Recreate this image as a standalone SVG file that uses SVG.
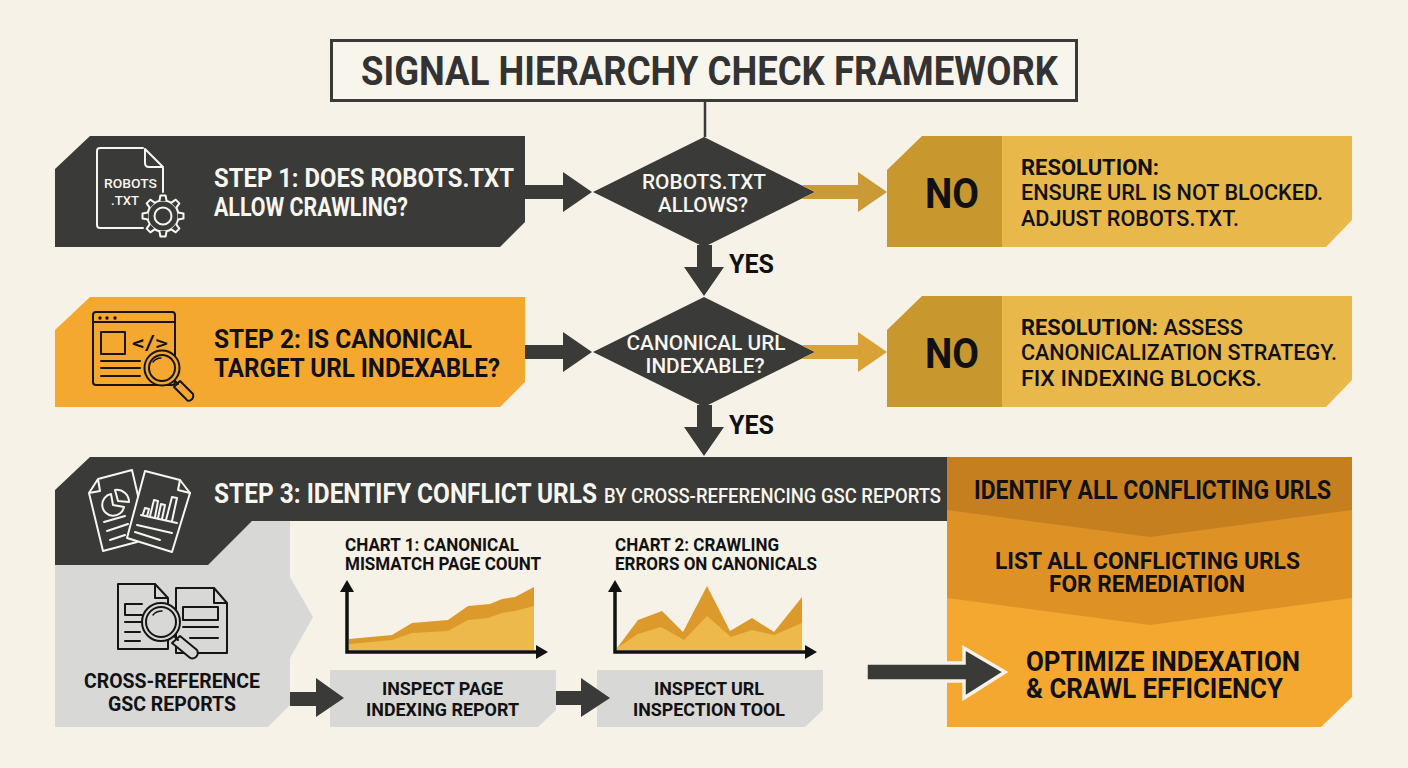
<svg xmlns="http://www.w3.org/2000/svg" xmlns:xlink="http://www.w3.org/1999/xlink" width="1408" height="768" viewBox="0 0 1408 768">
<style>
text{font-family:Roboto,"Liberation Sans",sans-serif;font-weight:700;fill:#111}
.w{fill:#f8f6f0}
.s{font-size:25px}
.d{font-size:20.500px;text-anchor:middle;font-weight:500}
.r{font-size:21.500px;font-weight:500}
.b{font-weight:700}
.g{font-size:18.500px;text-anchor:middle}
.c{font-size:17.500px}
.dk{fill:#3a3a38}
.ic{fill:none;stroke-linejoin:round;stroke-linecap:round;stroke-width:2}
.iw{stroke:#f8f6f0}
.ib{stroke:#151515}
</style>
<defs>
<path id="tooth" d="M-3.6-15-2.6-20.5H2.6L3.6-15" fill="#3a3a38" stroke="#f8f6f0" stroke-width="2" stroke-linejoin="round"/>
</defs>
<rect width="1408" height="768" fill="#f6f2e8"/>

<g id="title">
<rect x="331.500" y="40.500" width="745" height="60" fill="#f8f5ec" stroke="#3a3a38" stroke-width="3"/>
<text x="361" y="85" font-size="40" textLength="697" lengthAdjust="spacingAndGlyphs" style="fill:#333">SIGNAL HIERARCHY CHECK FRAMEWORK</text>
</g>

<g id="step1">
<polygon class="dk" points="55,169 90,136 525,136 525,222 500,247 55,247"/>
<g class="ic iw">
<path d="M143,148H100Q97,148 97,151V225Q97,228 100,228H143M163,168V192M145,149V163Q145,167 149,167H163L145,149"/>
<circle cx="163" cy="216" r="15.500" fill="#3a3a38"/>
<circle cx="163" cy="216" r="8.500"/>
</g>
<g transform="translate(163 216)">
<use xlink:href="#tooth"/><use xlink:href="#tooth" transform="rotate(45)"/><use xlink:href="#tooth" transform="rotate(90)"/><use xlink:href="#tooth" transform="rotate(135)"/><use xlink:href="#tooth" transform="rotate(180)"/><use xlink:href="#tooth" transform="rotate(225)"/><use xlink:href="#tooth" transform="rotate(270)"/><use xlink:href="#tooth" transform="rotate(315)"/>
</g>
<text class="w" x="104" y="188" font-size="13.500" textLength="53" lengthAdjust="spacingAndGlyphs" style="font-weight:500">ROBOTS</text>
<text class="w" x="111" y="205" font-size="13.500" textLength="28" lengthAdjust="spacingAndGlyphs" style="font-weight:500">.TXT</text>
<text class="s w" x="214" y="187" textLength="300" lengthAdjust="spacingAndGlyphs">STEP 1: DOES ROBOTS.TXT</text>
<text class="s w" x="214" y="216" textLength="194" lengthAdjust="spacingAndGlyphs">ALLOW CRAWLING?</text>
</g>

<g id="decision1">
<polygon class="dk" points="593,192 704,137 815,192 704,247"/>
<text class="d w" x="704" y="189" textLength="124" lengthAdjust="spacingAndGlyphs">ROBOTS.TXT</text>
<text class="d w" x="703" y="212" textLength="90" lengthAdjust="spacingAndGlyphs">ALLOWS?</text>
</g>

<g id="no1">
<polygon fill="#e9b84a" points="1000,136 1352,136 1352,220 1326,247 1000,247"/>
<polygon fill="#c8982f" points="887,170 922,136 1002,136 1002,247 887,247"/>
<text x="925" y="208" font-size="43" textLength="54" lengthAdjust="spacingAndGlyphs">NO</text>
<text class="r b" x="1021" y="175" textLength="138" lengthAdjust="spacingAndGlyphs">RESOLUTION:</text>
<text class="r" x="1021" y="200" textLength="302" lengthAdjust="spacingAndGlyphs">ENSURE URL IS NOT BLOCKED.</text>
<text class="r" x="1021" y="226" textLength="218" lengthAdjust="spacingAndGlyphs">ADJUST ROBOTS.TXT.</text>
</g>

<g id="step2">
<polygon fill="#f5a82f" points="55,330 90,297 525,297 525,382 500,407 55,407"/>
<g class="ic ib">
<rect x="93" y="312" width="82" height="73" rx="3"/>
<path d="M93,322H175M101,361H140M101,368H140M101,376H140"/>
<rect x="101" y="332" width="24" height="22"/>
</g>
<g fill="#151515"><circle cx="100" cy="318" r="1.700"/><circle cx="107" cy="318" r="1.700"/><circle cx="115" cy="318" r="1.700"/></g>
<text x="132" y="350" font-size="21" textLength="36" lengthAdjust="spacingAndGlyphs" style="font-weight:500">&lt;/&gt;</text>
<g class="ic ib">
<circle cx="162" cy="368" r="17.500" fill="#f5a82f"/>
<circle cx="162" cy="368" r="13"/>
<path d="M175,381L178,384M174,387L180,381 193,394Q194,398 191,400 188,402 186,399Z" fill="#f5a82f"/>
<path d="M153,362Q156,358 161,358" stroke-width="1.500"/>
</g>
<text class="s" x="214" y="348" textLength="258" lengthAdjust="spacingAndGlyphs">STEP 2: IS CANONICAL</text>
<text class="s" x="214" y="377" textLength="286" lengthAdjust="spacingAndGlyphs">TARGET URL INDEXABLE?</text>
</g>

<g id="decision2">
<polygon class="dk" points="593,352 704,297 815,352 704,407"/>
<text class="d w" x="706" y="350" textLength="159" lengthAdjust="spacingAndGlyphs">CANONICAL URL</text>
<text class="d w" x="705" y="373" textLength="119" lengthAdjust="spacingAndGlyphs">INDEXABLE?</text>
</g>

<g id="no2">
<polygon fill="#e9b84a" points="1000,296 1352,296 1352,380 1326,407 1000,407"/>
<polygon fill="#c8982f" points="887,330 922,296 1002,296 1002,407 887,407"/>
<text x="925" y="367.500" font-size="43" textLength="54" lengthAdjust="spacingAndGlyphs">NO</text>
<text class="r" x="1021" y="335" textLength="222" lengthAdjust="spacingAndGlyphs"><tspan class="b">RESOLUTION:</tspan> ASSESS</text>
<text class="r" x="1021" y="360" textLength="316" lengthAdjust="spacingAndGlyphs">CANONICALIZATION STRATEGY.</text>
<text class="r" x="1021" y="386" textLength="241" lengthAdjust="spacingAndGlyphs">FIX INDEXING BLOCKS.</text>
</g>

<g id="step3">
<polygon fill="#d8d8d6" points="55,560 208,560 252,521 290,521 290,577 313,617 290,658 290,705 268,727 55,727"/>
<polygon class="dk" points="55,490 90,457 950,457 950,521 252,521 208,565 55,565"/>
<g class="ic iw">
<path d="M98,479L132,470 146,530 137,542 103,551 89,493ZM89,493L100,491 98,479"/>
<path d="M145,471L180,480 190,493 172,552 127,538Z" fill="#3a3a38"/>
<path d="M180,480L178,490 190,493"/>
<path d="M111,494A11,11 0 1 0 124,507L113,505Z"/>
<path d="M115,490A12,12 0 0 1 129,502L118,501Z"/>
<path d="M104,522L125,516M107,531L128,524M110,540L125,535"/>
<path d="M143,514L145,508 149,509 147,516M150,516L154,500 158,501 155,517M158,518L161,504 165,505 162,519M166,520L172,497 177,498 172,521"/>
<path d="M141,515L177,523M137,525L172,533M135,532L160,540"/>
</g>
<text class="w" x="214" y="503" font-size="27" textLength="383" lengthAdjust="spacingAndGlyphs">STEP 3: IDENTIFY CONFLICT URLS</text>
<text class="w" x="604" y="502.500" font-size="21" textLength="337" lengthAdjust="spacingAndGlyphs" style="font-weight:500">BY CROSS-REFERENCING GSC REPORTS</text>
</g>

<g id="cross-reference">
<g class="ic ib">
<path d="M155,584H118V649H168V598L155,584V598H168M176,588H214L227,603V653H176ZM214,588V603H227"/>
<path d="M142,604H125V615H142M125,622H142M125,632H140M125,641H140"/>
<rect x="183" y="607" width="35" height="13"/>
<path d="M183,627H218M190,638H218"/>
<circle cx="161" cy="622" r="19" fill="#d8d8d6"/>
<circle cx="161" cy="622" r="15"/>
<path d="M174,636L178,640M172,643L180,636 197,650Q199,654 196,657 192,660 189,657Z" fill="#d8d8d6"/>
<path d="M153,615Q156,611 162,611" stroke-width="1.500"/>
</g>
<text class="g" x="172" y="688" style="font-size:19.500px" textLength="176" lengthAdjust="spacingAndGlyphs">CROSS-REFERENCE</text>
<text class="g" x="172" y="711" style="font-size:19.500px" textLength="128" lengthAdjust="spacingAndGlyphs">GSC REPORTS</text>
</g>

<g id="chart1">
<text class="c" x="345" y="551" textLength="174" lengthAdjust="spacingAndGlyphs">CHART 1: CANONICAL</text>
<text class="c" x="345" y="570" textLength="196" lengthAdjust="spacingAndGlyphs">MISMATCH PAGE COUNT</text>
<polygon fill="#dd9a2c" points="349,639 392,635 412,623 448,620 468,606 490,604 502,599 515,597 534,587 534,650 349,650"/>
<polygon fill="#ecb94a" points="349,644 392,640 412,633 448,631 468,620 488,618 502,613 515,611 534,606 534,650 349,650"/>
<path d="M347,590V652H537" fill="none" stroke="#111" stroke-width="3.500"/>
<polygon fill="#111" points="347,580 354,592 340,592"/>
<polygon fill="#111" points="548,652 536,645 536,659"/>
</g>

<g id="chart2">
<text class="c" x="615" y="551" textLength="164" lengthAdjust="spacingAndGlyphs">CHART 2: CRAWLING</text>
<text class="c" x="615" y="570" textLength="202" lengthAdjust="spacingAndGlyphs">ERRORS ON CANONICALS</text>
<polygon fill="#dd9a2c" points="617,648 638,620 662,611 683,632 707,586 730,631 752,618 774,632 802,597 802,650 617,650"/>
<polygon fill="#ecb94a" points="617,648 638,634 661,627 684,640 707,616 731,637 752,630 774,635 802,623 802,650 617,650"/>
<path d="M615,590V652H805" fill="none" stroke="#111" stroke-width="3.500"/>
<polygon fill="#111" points="615,580 622,592 608,592"/>
<polygon fill="#111" points="817,652 805,645 805,659"/>
</g>

<g id="inspect-page">
<polygon fill="#d8d8d6" points="330,670 556,670 556,710 538,727 330,727"/>
<text class="g" x="442.500" y="695" textLength="121" lengthAdjust="spacingAndGlyphs">INSPECT PAGE</text>
<text class="g" x="442.500" y="716" textLength="153" lengthAdjust="spacingAndGlyphs">INDEXING REPORT</text>
</g>

<g id="inspect-url">
<polygon fill="#d8d8d6" points="597,670 823,670 823,710 805,727 597,727"/>
<text class="g" x="709" y="695" textLength="110" lengthAdjust="spacingAndGlyphs">INSPECT URL</text>
<text class="g" x="709" y="716" textLength="152" lengthAdjust="spacingAndGlyphs">INSPECTION TOOL</text>
</g>

<g id="outcome">
<polygon fill="#f4a830" points="947,457 1352,457 1352,697 1321,727 947,727"/>
<polygon fill="#de9226" points="947,457 1352,457 1352,598 1150,625 947,598"/>
<polygon fill="#c67f1f" points="947,457 1352,457 1352,510 1150,537 947,510"/>
<text x="974" y="499" font-size="25" textLength="357" lengthAdjust="spacingAndGlyphs">IDENTIFY ALL CONFLICTING URLS</text>
<text x="995" y="569" font-size="24.500" textLength="305" lengthAdjust="spacingAndGlyphs">LIST ALL CONFLICTING URLS</text>
<text x="1049" y="592" font-size="24.500" textLength="196" lengthAdjust="spacingAndGlyphs">FOR REMEDIATION</text>
<text x="1026" y="671" font-size="28" textLength="274" lengthAdjust="spacingAndGlyphs">OPTIMIZE INDEXATION</text>
<text x="1026" y="698" font-size="28" textLength="257" lengthAdjust="spacingAndGlyphs">&amp; CRAWL EFFICIENCY</text>
</g>

<g id="connectors">
<path d="M705,100V137" fill="none" stroke="#3a3a38" stroke-width="2.500"/>
<polygon class="dk" points="525,185 563,185 563,172 592,192 563,212 563,199 525,199"/>
<polygon fill="#c99a35" points="815,192 801,185 858,185 858,172 887,192 858,212 858,199 801,199"/>
<polygon class="dk" points="697,245 712,245 712,267 724,267 704,296 684,267 697,267"/>
<polygon class="dk" points="525,345 563,345 563,332 592,352 563,372 563,359 525,359"/>
<polygon fill="#d9a236" points="815,352 801,345 858,345 858,332 887,352 858,372 858,359 801,359"/>
<polygon class="dk" points="697,405 712,405 712,427 724,427 704,456 684,427 697,427"/>
<polygon class="dk" points="290,692 316,692 316,678 344,698 316,717 316,706 290,706"/>
<polygon class="dk" points="556,691 581,691 581,678 610,698 581,717 581,705 556,705"/>
<polygon class="dk" stroke="#f6f2e8" stroke-width="3.500" points="866,663 964,663 964,648 1005,672 964,698 964,681 866,681"/>
<text x="729" y="273" font-size="26" textLength="45" lengthAdjust="spacingAndGlyphs">YES</text>
<text x="729" y="434" font-size="26" textLength="45" lengthAdjust="spacingAndGlyphs">YES</text>
</g>
</svg>
